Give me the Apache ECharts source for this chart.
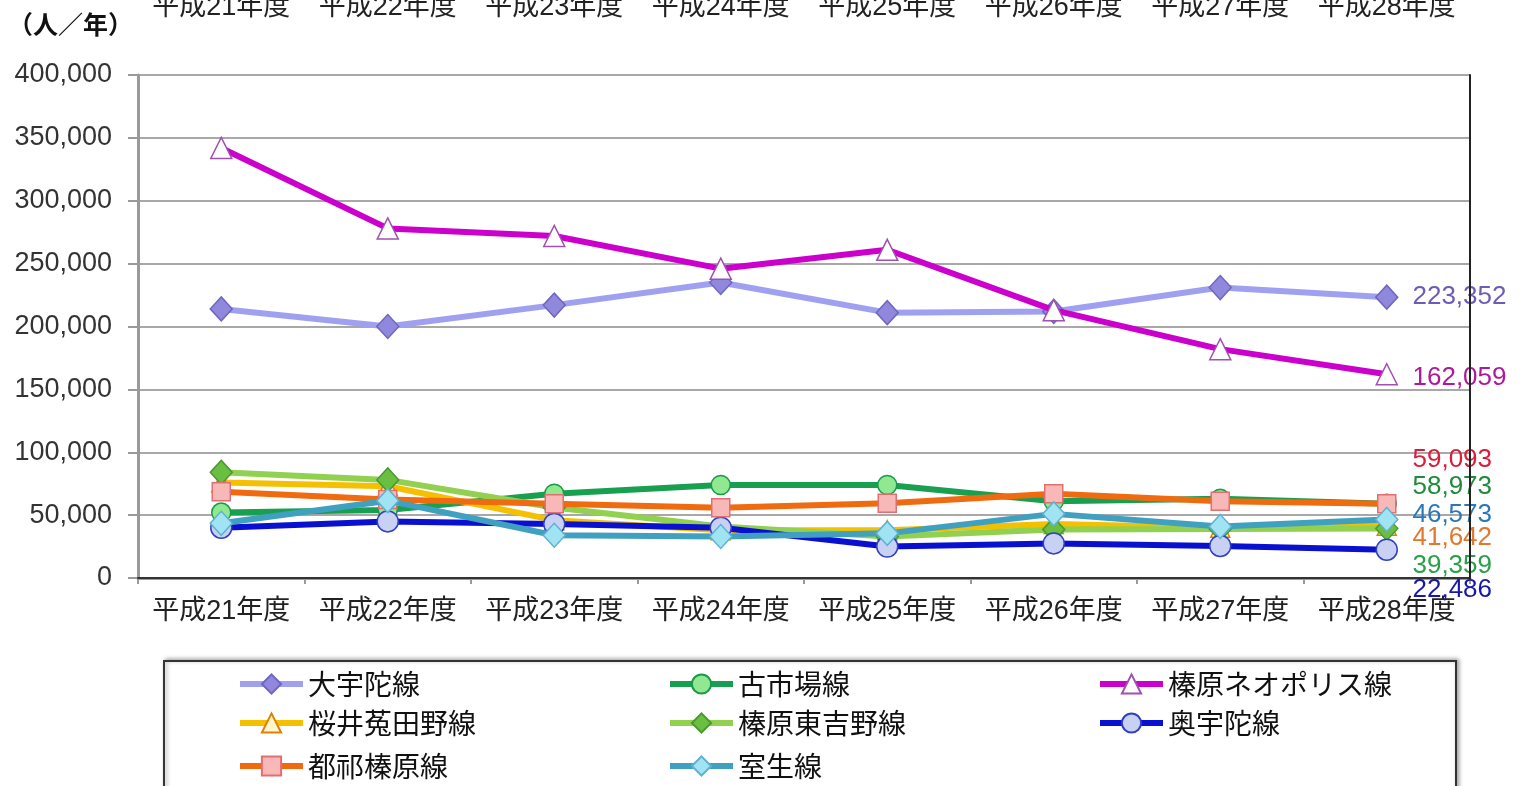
<!DOCTYPE html>
<html>
<head>
<meta charset="utf-8">
<script src="https://cdn.jsdelivr.net/npm/echarts@6/dist/echarts.min.js"></script>
<style>
html,body{margin:0;padding:0;background:#fff;}
#c{width:1521px;height:786px;}
</style>
</head>
<body>
<div id="c"></div>
<script>
// ---- data ----
const categories = ['平成21年度','平成22年度','平成23年度','平成24年度','平成25年度','平成26年度','平成27年度','平成28年度'];
const yTicks = [0, 50000, 100000, 150000, 200000, 250000, 300000, 350000, 400000];
const unitLabel = '（人／年）';

const ouda       = [214000, 200000, 217000, 235000, 211000, 212000, 231000, 223352]; // 大宇陀線
const furuichiba = [52000, 54000, 67000, 74000, 74000, 61000, 63000, 58973];         // 古市場線
const neopolis   = [342000, 278000, 272000, 246000, 261000, 213000, 182000, 162059]; // 榛原ネオポリス線
const sakurai    = [76000, 73000, 46000, 38000, 38000, 43000, 40000, 41642];         // 桜井菟田野線
const higashi    = [84000, 78000, 56000, 41000, 33000, 38500, 39000, 39359];         // 榛原東吉野線
const okuuda     = [40000, 45000, 43000, 40000, 25000, 27500, 25500, 22486];         // 奥宇陀線
const tsuge      = [68500, 62500, 59000, 55800, 59500, 67000, 61000, 59093];         // 都祁榛原線
const muro       = [43500, 61500, 34000, 33000, 35500, 51000, 41000, 46573];         // 室生線

const names = ['大宇陀線','古市場線','榛原ネオポリス線','桜井菟田野線','榛原東吉野線','奥宇陀線','都祁榛原線','室生線'];
const values = [ouda, furuichiba, neopolis, sakurai, higashi, okuuda, tsuge, muro];

// ---- styles ----
const numFont = "'Liberation Sans', 'Noto Sans CJK JP', sans-serif";
const styles = [
  {line:'#a0a0f0', sym:'diamond', size:[22,24], fill:'#9088dc', border:'#6f66c0', lab:'#6b5cb8', dy:0},
  {line:'#18a050', sym:'circle', size:19, fill:'#90e890', border:'#1a9a48', lab:'#1e8c3c', dy:-17},
  {line:'#cc00cc', sym:'triangle', size:21, fill:'#ffffff', border:'#a050b0', lab:'#b0189a', dy:4},
  {line:'#f5c000', sym:'triangle', size:19, fill:'#fff6d0', border:'#e08000', lab:'#e07830', dy:12},
  {line:'#92d050', sym:'diamond', size:[22,24], fill:'#6abf40', border:'#4a9a30', lab:'#2aa04a', dy:37},
  {line:'#0a10d0', sym:'circle', size:21, fill:'#c8d0f4', border:'#3040c0', lab:'#1818a8', dy:40},
  {line:'#f06a10', sym:'rect', size:18, fill:'#f8b8b8', border:'#e07070', lab:'#d81e3c', dy:-44},
  {line:'#40a0c0', sym:'diamond', size:[22,24], fill:'#a0e4f4', border:'#60b0d0', lab:'#2a78b8', dy:-5}
];
// legend slot per series: [left, top]
const legendPos = [[237,669],[667,669],[1097,669],[237,708],[667,708],[1097,708],[237,751],[667,751]];

const fmt = v => Number(v).toLocaleString('en-US');

const series = names.map((n, i) => {
  const s = styles[i];
  const arr = values[i];
  const symW = Array.isArray(s.size) ? s.size[0] : s.size;
  return {
    name: n,
    type: 'line',
    data: arr.map((v, j) => j === arr.length - 1 ? {
      value: v,
      label: {
        show: true, position: 'right', distance: 25 - symW / 2,
        offset: [0, s.dy],
        formatter: p => fmt(p.value),
        color: s.lab, fontSize: 26, fontFamily: numFont
      }
    } : v),
    symbol: s.sym,
    symbolSize: s.size,
    showAllSymbol: true,
    lineStyle: {color: s.line, width: 6},
    itemStyle: {color: s.fill, borderColor: s.border, borderWidth: 1.5},
    emphasis: {disabled: true},
    z: 2 + i
  };
});

const legends = names.map((n, i) => ({
  left: legendPos[i][0],
  top: legendPos[i][1],
  padding: 0,
  data: [n],
  itemWidth: 63,
  itemHeight: 24,
  textStyle: {fontSize: 28, lineHeight: 30, color: '#111', fontFamily: "'Noto Sans CJK JP', sans-serif"},
  lineStyle: {width: 6},
  z: 10,
  selectedMode: false
}));

const chart = echarts.init(document.getElementById('c'), null, {renderer: 'canvas'});
chart.setOption({
  animation: false,
  backgroundColor: '#ffffff',
  grid: {left: 138, right: 51, top: 75, bottom: 208, containLabel: false, outerBoundsMode: 'none'},
  xAxis: [{
    type: 'category',
    data: categories,
    boundaryGap: true,
    axisLine: {lineStyle: {color: '#9a9a9a', width: 3}},
    axisTick: {show: true, length: 6, lineStyle: {color: '#9a9a9a', width: 2}},
    axisLabel: {fontSize: 27, color: '#222', margin: 20, fontFamily: numFont, interval: 0}
  }, {
    type: 'category',
    data: categories,
    position: 'top',
    boundaryGap: true,
    axisLine: {show: true, lineStyle: {color: '#333', width: 2}},
    axisTick: {show: false},
    axisLabel: {fontSize: 27, color: '#222', margin: 54, fontFamily: numFont, interval: 0},
    z: 5
  }],
  yAxis: [{
    type: 'value',
    min: yTicks[0],
    max: yTicks[yTicks.length - 1],
    interval: yTicks[1] - yTicks[0],
    axisLine: {show: true, lineStyle: {color: '#9a9a9a', width: 3}},
    axisTick: {show: true, length: 10, lineStyle: {color: '#9a9a9a', width: 2}},
    axisLabel: {fontSize: 27, color: '#333', margin: 26, fontFamily: numFont, formatter: v => fmt(v)},
    splitLine: {show: true, lineStyle: {color: '#a8a8a8', width: 2}}
  }, {
    type: 'value',
    position: 'right',
    min: yTicks[0],
    max: yTicks[yTicks.length - 1],
    interval: yTicks[1] - yTicks[0],
    axisLine: {show: true, lineStyle: {color: '#222', width: 2}},
    axisTick: {show: false},
    axisLabel: {show: false},
    splitLine: {show: false},
    z: 20
  }],
  legend: legends,
  graphic: [
    {type: 'rect', left: 163, top: 660, z: 1,
     shape: {width: 1292, height: 140},
     style: {fill: '#fff', stroke: '#333', lineWidth: 2, shadowBlur: 4, shadowColor: 'rgba(0,0,0,0.35)', shadowOffsetX: 2, shadowOffsetY: -1}},
    {type: 'text', left: 8, top: 12, z: 5,
     style: {text: unitLabel, fontSize: 25, fontWeight: 'bold', fill: '#111', fontFamily: "'Noto Sans CJK JP', sans-serif"}}
  ],
  series: series
});
</script>
</body>
</html>
